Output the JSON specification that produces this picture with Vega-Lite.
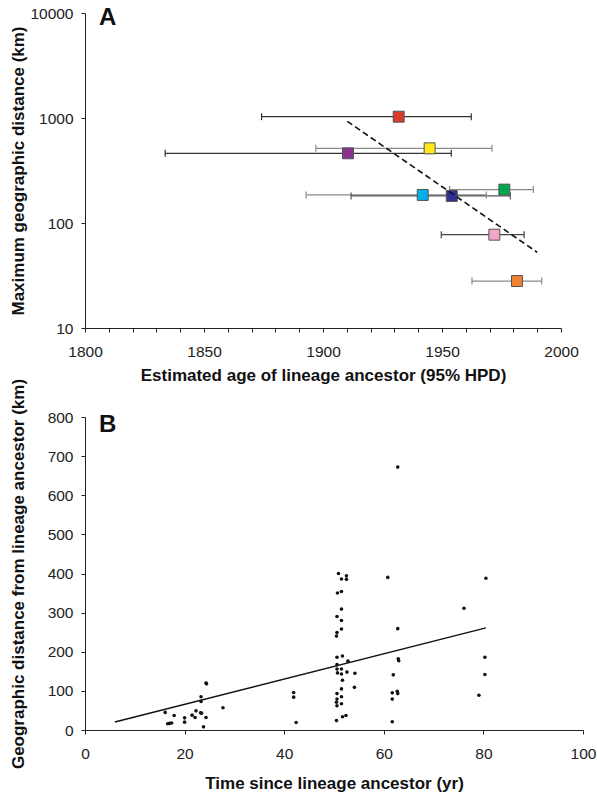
{
  "$schema": "https://vega.github.io/schema/vega-lite/v6.json",
  "padding": {"left": 8, "top": 6, "right": 6, "bottom": 2},
  "bounds": "flush",
  "spacing": 89,
  "config": {
    "view": {"stroke": null},
    "font": "Liberation Sans",
    "axis": {
      "grid": false, "domainColor": "#222", "tickColor": "#222", "labelColor": "#222", "titleColor": "#111",
      "labelFontSize": 15.5, "titleFontSize": 17, "titleFontWeight": "bold", "tickSize": 4,
      "labelFont": "Liberation Sans", "titleFont": "Liberation Sans", "labelFlush": false, "labelOverlap": false,
      "domainWidth": 1, "tickWidth": 1
    },
    "axisX": {"labelPadding": 12, "titleY": 52, "titleBaseline": "alphabetic"},
    "axisY": {"labelPadding": 8, "titleX": -62, "titleBaseline": "alphabetic"},
    "title": {"fontSize": 24, "fontWeight": "bold", "font": "Liberation Sans", "anchor": "start", "frame": "group", "baseline": "alphabetic", "offset": -24, "dx": 14, "color": "#111"}
  },
  "datasets": {
    "lineages": [
      {"lineage": "red", "year": 1931.8, "lo": 1874.2, "hi": 1962.3, "dist": 1029},
      {"lineage": "yellow", "year": 1944.8, "lo": 1897, "hi": 1971, "dist": 514},
      {"lineage": "purple", "year": 1910.5, "lo": 1833.7, "hi": 1953.9, "dist": 461},
      {"lineage": "green", "year": 1976.2, "lo": 1953.2, "hi": 1988.4, "dist": 208},
      {"lineage": "cyan", "year": 1941.9, "lo": 1892.9, "hi": 1968.6, "dist": 185},
      {"lineage": "navy", "year": 1954.1, "lo": 1911.8, "hi": 1978.7, "dist": 181},
      {"lineage": "pink", "year": 1972, "lo": 1949.7, "hi": 1984.5, "dist": 77.4},
      {"lineage": "orange", "year": 1981.5, "lo": 1962.6, "hi": 1991.9, "dist": 28}
    ],
    "trendA": [
      {"year": 1910.2, "dist": 930},
      {"year": 1990, "dist": 52.6}
    ],
    "points": [
      {"t": 16.1, "d": 45}, {"t": 16.6, "d": 16}, {"t": 17.0, "d": 17}, {"t": 17.4, "d": 18}, {"t": 17.9, "d": 37},
      {"t": 20.0, "d": 31}, {"t": 20.0, "d": 20}, {"t": 21.5, "d": 38}, {"t": 22.1, "d": 32}, {"t": 22.3, "d": 49},
      {"t": 23.2, "d": 44}, {"t": 23.4, "d": 43}, {"t": 23.3, "d": 73}, {"t": 23.3, "d": 85}, {"t": 23.8, "d": 8},
      {"t": 24.3, "d": 32}, {"t": 24.3, "d": 120}, {"t": 24.4, "d": 118}, {"t": 27.7, "d": 57},
      {"t": 50.9, "d": 400}, {"t": 51.5, "d": 386}, {"t": 52.5, "d": 394}, {"t": 52.5, "d": 385}, {"t": 60.8, "d": 390},
      {"t": 50.7, "d": 350}, {"t": 51.5, "d": 354}, {"t": 51.5, "d": 309}, {"t": 50.6, "d": 290}, {"t": 51.5, "d": 280},
      {"t": 51.5, "d": 258}, {"t": 50.6, "d": 249}, {"t": 50.5, "d": 240}, {"t": 62.8, "d": 259}, {"t": 50.6, "d": 186},
      {"t": 51.7, "d": 189}, {"t": 52.8, "d": 176}, {"t": 50.6, "d": 167}, {"t": 50.6, "d": 156}, {"t": 51.5, "d": 156},
      {"t": 50.7, "d": 146}, {"t": 51.5, "d": 143}, {"t": 52.6, "d": 148}, {"t": 54.2, "d": 145}, {"t": 62.9, "d": 182},
      {"t": 63.0, "d": 177}, {"t": 61.9, "d": 141}, {"t": 51.7, "d": 127}, {"t": 51.5, "d": 105}, {"t": 54.1, "d": 109},
      {"t": 50.6, "d": 93}, {"t": 51.5, "d": 85}, {"t": 50.6, "d": 79}, {"t": 50.5, "d": 71}, {"t": 50.6, "d": 62},
      {"t": 51.5, "d": 67}, {"t": 61.7, "d": 95}, {"t": 62.7, "d": 99}, {"t": 62.8, "d": 93}, {"t": 61.7, "d": 79},
      {"t": 41.9, "d": 96}, {"t": 41.9, "d": 84}, {"t": 42.4, "d": 19}, {"t": 50.5, "d": 24}, {"t": 51.7, "d": 34},
      {"t": 52.4, "d": 37}, {"t": 61.7, "d": 21}, {"t": 62.8, "d": 672},
      {"t": 80.5, "d": 388}, {"t": 76.1, "d": 311}, {"t": 80.3, "d": 186}, {"t": 80.3, "d": 142}, {"t": 79.1, "d": 89}
    ],
    "fitB": [
      {"t": 6, "d": 20.6},
      {"t": 80.5, "d": 261}
    ]
  },
  "vconcat": [
    {
      "width": 476,
      "height": 315,
      "title": {"text": "A"},
      "layer": [
        {
          "data": {"name": "lineages"},
          "mark": {"type": "rule", "strokeWidth": 1.2},
          "encoding": {
            "x": {"field": "lo", "type": "quantitative", "scale": {"domain": [1800, 2000], "nice": false, "zero": false},
              "axis": {"title": "Estimated age of lineage ancestor (95% HPD)", "values": [1800,1810,1820,1830,1840,1850,1860,1870,1880,1890,1900,1910,1920,1930,1940,1950,1960,1970,1980,1990,2000],
                "tickCount": 50, "format": "d", "labelExpr": "datum.value % 50 === 0 ? datum.label : ''", "labelOverlap": false, "labelFontSize": 15.5, "labelFlush": false}},
            "x2": {"field": "hi"},
            "y": {"field": "dist", "type": "quantitative", "scale": {"type": "log", "domain": [10, 10000], "nice": false},
              "axis": {"title": "Maximum geographic distance (km)", "values": [10, 100, 1000, 10000], "tickCount": 50, "format": "d", "labelOverlap": false, "labelFontSize": 15.5}},
            "color": {"field": "lineage", "type": "nominal", "legend": null,
              "scale": {"domain": ["red","yellow","purple","green","cyan","navy","pink","orange"],
                "range": ["#333333","#8a8a8a","#333333","#8a8a8a","#8a8a8a","#555555","#444444","#8a8a8a"]}}
          }
        },
        {
          "data": {"name": "lineages"},
          "mark": {"type": "tick", "orient": "vertical", "size": 7, "thickness": 1.2, "opacity": 1},
          "encoding": {
            "x": {"field": "lo", "type": "quantitative", "scale": {"domain": [1800, 2000], "nice": false, "zero": false}, "title": "Estimated age of lineage ancestor (95% HPD)"},
            "y": {"field": "dist", "type": "quantitative", "scale": {"type": "log", "domain": [10, 10000], "nice": false}, "title": "Maximum geographic distance (km)"},
            "color": {"field": "lineage", "type": "nominal", "legend": null}
          }
        },
        {
          "data": {"name": "lineages"},
          "mark": {"type": "tick", "orient": "vertical", "size": 7, "thickness": 1.2, "opacity": 1},
          "encoding": {
            "x": {"field": "hi", "type": "quantitative", "scale": {"domain": [1800, 2000], "nice": false, "zero": false}, "title": "Estimated age of lineage ancestor (95% HPD)"},
            "y": {"field": "dist", "type": "quantitative", "scale": {"type": "log", "domain": [10, 10000], "nice": false}, "title": "Maximum geographic distance (km)"},
            "color": {"field": "lineage", "type": "nominal", "legend": null}
          }
        },
        {
          "data": {"name": "lineages"},
          "mark": {"type": "square", "size": 120, "filled": true, "opacity": 1, "stroke": "#555555", "strokeWidth": 1},
          "encoding": {
            "x": {"field": "year", "type": "quantitative", "scale": {"domain": [1800, 2000], "nice": false, "zero": false}, "title": "Estimated age of lineage ancestor (95% HPD)"},
            "y": {"field": "dist", "type": "quantitative", "scale": {"type": "log", "domain": [10, 10000], "nice": false}, "title": "Maximum geographic distance (km)"},
            "fill": {"field": "lineage", "type": "nominal", "legend": null,
              "scale": {"domain": ["red","yellow","purple","green","cyan","navy","pink","orange"],
                "range": ["#d93a2b","#ffe81c","#8b3090","#00a650","#00b0ea","#2e3192","#efa7c5","#f08232"]}}
          }
        },
        {
          "data": {"name": "trendA"},
          "mark": {"type": "line", "color": "#111111", "strokeWidth": 1.6, "strokeDash": [6, 3.5]},
          "encoding": {
            "x": {"field": "year", "type": "quantitative", "scale": {"domain": [1800, 2000], "nice": false, "zero": false}, "title": "Estimated age of lineage ancestor (95% HPD)"},
            "y": {"field": "dist", "type": "quantitative", "scale": {"type": "log", "domain": [10, 10000], "nice": false}, "title": "Maximum geographic distance (km)"}
          }
        }
      ]
    },
    {
      "width": 498,
      "height": 313,
      "title": {"text": "B", "offset": -59},
      "layer": [
        {
          "data": {"name": "points"},
          "mark": {"type": "circle", "size": 13, "color": "#111111", "opacity": 1},
          "encoding": {
            "x": {"field": "t", "type": "quantitative", "scale": {"domain": [0, 100], "nice": false},
              "axis": {"title": "Time since lineage ancestor (yr)", "values": [0, 20, 40, 60, 80, 100], "tickCount": 50, "titleY": 58, "labelOverlap": false, "labelFontSize": 15.5, "labelFlush": false}},
            "y": {"field": "d", "type": "quantitative", "scale": {"domain": [0, 800], "nice": false},
              "axis": {"title": "Geographic distance from lineage ancestor (km)", "values": [0, 100, 200, 300, 400, 500, 600, 700, 800], "tickCount": 50, "labelOverlap": false, "labelFontSize": 15.5}}
          }
        },
        {
          "data": {"name": "fitB"},
          "mark": {"type": "line", "color": "#111111", "strokeWidth": 1.5},
          "encoding": {
            "x": {"field": "t", "type": "quantitative", "scale": {"domain": [0, 100], "nice": false}, "title": "Time since lineage ancestor (yr)"},
            "y": {"field": "d", "type": "quantitative", "scale": {"domain": [0, 800], "nice": false}, "title": "Geographic distance from lineage ancestor (km)"}
          }
        }
      ]
    }
  ]
}
